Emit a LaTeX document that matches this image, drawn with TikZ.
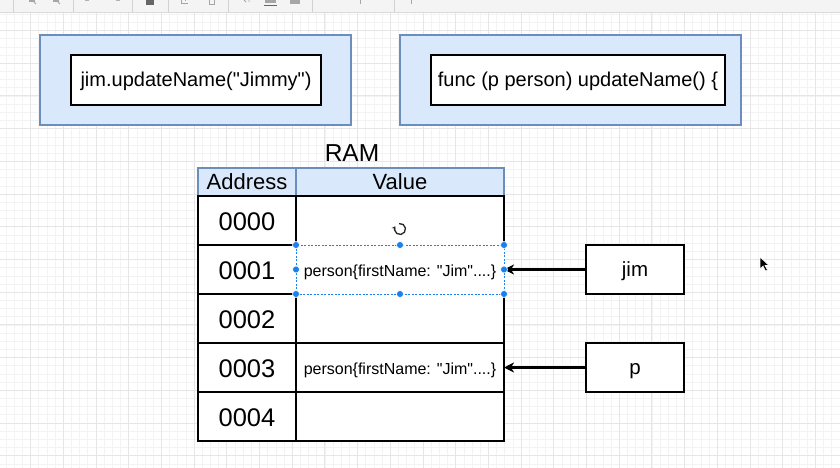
\documentclass[tikz,border=0pt]{standalone}
\usepackage{fontspec}
\setmainfont{Liberation Sans}[Ligatures=TeXOff]
\usetikzlibrary{arrows.meta}
\definecolor{blfill}{HTML}{DAE8FC}
\definecolor{blline}{HTML}{6C8EBF}
\definecolor{selblue}{HTML}{1A7FF0}
\definecolor{gmin}{HTML}{F3F3F3}
\definecolor{gmaj}{HTML}{E6E6E6}
\definecolor{tbar}{HTML}{F4F4F4}
\tikzset{
  outerbox/.style={draw=blline, fill=blfill, line width=1.2pt, minimum width=#1, minimum height=90pt, inner sep=0pt, outer sep=0pt},
  codebox/.style={draw=black, fill=white, line width=1.5pt, minimum width=#1, minimum height=50pt, inner sep=0pt, outer sep=0pt, text height=18pt, text depth=4pt, font=\fontsize{20}{24}\selectfont},
  headcell/.style={draw=blline, fill=blfill, line width=1.2pt, minimum width=#1, minimum height=28pt, inner sep=0pt, outer sep=0pt, font=\fontsize{22}{26}\selectfont},
  addrcell/.style={draw=black, fill=white, line width=1.5pt, minimum width=98pt, minimum height=49pt, inner sep=0pt, outer sep=0pt, text height=22pt, text depth=3pt, font=\fontsize{25.5}{28}\selectfont},
  valcell/.style={draw=black, fill=white, line width=1.5pt, minimum width=208pt, minimum height=49pt, inner sep=0pt, outer sep=0pt, text height=16pt, text depth=3pt, font=\fontsize{16}{19}\selectfont},
  varbox/.style={draw=black, fill=white, line width=1.5pt, minimum width=98pt, minimum height=49pt, inner sep=0pt, outer sep=0pt, text height=18pt, text depth=4pt, font=\fontsize{20.5}{24}\selectfont},
  ptr/.style={line width=2.6pt, -{Stealth[length=10pt,width=10pt,inset=3pt]}},
  handle/.style={fill=selblue, draw=white, line width=0.6pt, circle, inner sep=0pt, minimum size=7pt},
  tbsep/.style={draw=gray!35, line width=0.6pt},
  tbicon/.style={fill=gray!70, draw=none}
}
\begin{document}
\begin{tikzpicture}[x=1pt,y=-1pt]
\useasboundingbox (0,0) rectangle (840,468);
\fill[white] (0,0) rectangle (840,468);
% grid
\foreach \i in {0,...,104} {
  \pgfmathsetmacro{\gx}{-2.2+8.175*\i}
  \draw[gmin, line width=0.5pt] (\gx,13) -- (\gx,468);
}
\foreach \i in {0,...,57} {
  \pgfmathsetmacro{\gy}{-2.2+8.175*\i}
  \draw[gmin, line width=0.5pt] (0,\gy) -- (840,\gy);
}
\foreach \i in {0,...,26} {
  \pgfmathsetmacro{\gx}{-2.2+32.7*\i}
  \draw[gmaj, line width=0.8pt] (\gx,13) -- (\gx,468);
}
\foreach \i in {0,...,14} {
  \pgfmathsetmacro{\gy}{-2.2+32.7*\i}
  \draw[gmaj, line width=0.8pt] (0,\gy) -- (840,\gy);
}
% toolbar strip
\fill[tbar] (0,0) rectangle (840,13);
\draw[gray!30, line width=1pt] (0,13) -- (840,13);
\foreach \sx in {13,73,132,168,228,312,394} {
  \draw[tbsep] (\sx,0) -- (\sx,12);
}
\fill[tbicon] (29,0) rectangle (35,2.5);
\draw[gray!70, line width=0.8pt] (34,2) -- (36,4);
\fill[tbicon] (53,0) rectangle (59,2.5);
\draw[gray!70, line width=0.8pt] (58,2) -- (60,4);
\fill[gray!60] (85,0) rectangle (89,1.2);
\fill[gray!60] (116,0) rectangle (120,1.2);
\fill[gray!80!black] (146,0) rectangle (154,5);
\draw[gray!70, line width=0.8pt] (181,0) -- (181,3) -- (188,3) (185,0) -- (185,1);
\draw[gray!70, line width=0.8pt] (209,0) -- (209,4) -- (214,4) -- (214,0);
\draw[gray!70, line width=0.8pt] (244,0) -- (246,2) (249,0) -- (249,2);
\fill[tbicon] (265,0) rectangle (276,3);
\fill[gray!80!black] (264,5) rectangle (277,6.5);
\fill[tbicon] (290,0) rectangle (300,4);
\draw[gray!70, line width=0.8pt] (360,0) -- (360,4);
\draw[gray!70, line width=1pt] (411,0) -- (411,4);
% code boxes
\node[outerbox=311pt] (oL) at (195.5,80) {};
\node[codebox=250pt] (cL) at (196,80) {jim.updateName("Jimmy")};
\node[outerbox=341pt] (oR) at (570.5,80) {};
\node[codebox=294pt] (cR) at (578,80) {func (p person) updateName() \{};
% RAM table
\node[font=\fontsize{24.5}{28}\selectfont, inner sep=0pt] (ram) at (352,153) {RAM};
\node[headcell=98pt] (hA) at (247,182) {Address};
\node[headcell=208pt] (hV) at (400,182) {Value};
\foreach \r/\lab in {0/0000,1/0001,2/0002,3/0003,4/0004} {
  \pgfmathsetmacro{\cy}{220.5+49*\r}
  \node[addrcell] (a\r) at (247,\cy) {\lab};
}
\node[valcell] (v0) at (400,220.5) {};
\node[valcell] (v1) at (400,269.5) {person\{firstName: "Jim"....\}};
\node[valcell] (v2) at (400,318.5) {};
\node[valcell] (v3) at (400,367.5) {person\{firstName: "Jim"....\}};
\node[valcell] (v4) at (400,416.5) {};
% variables
\node[varbox] (jim) at (635,269.5) {jim};
\node[varbox] (p) at (635,367.5) {p};
\draw[ptr] (jim.west) -- (v1.east);
\draw[ptr] (p.west) -- (v3.east);
% selection of v1
\draw[white, line width=1.6pt] (v1.north west) rectangle (v1.south east);
\draw[selblue, line width=0.9pt, dash pattern=on 2pt off 1.5pt] (v1.north west) rectangle (v1.south east);
\foreach \an in {north west,north,north east,east,south east,south,south west,west} {
  \node[handle] at (v1.\an) {};
}
% rotate icon
\coordinate (rot) at (400,229);
\draw[gray!30!black, line width=1.3pt, -{Stealth[length=3.5pt,width=4.5pt]}] (rot) ++(100:5.5pt) arc[start angle=100, end angle=-210, radius=5.5pt];
% cursor
\coordinate (cur) at (760,257);
\fill[black, draw=white, line width=0.6pt] (cur) -- ++(0,12) -- ++(3,-3) -- ++(2.5,5) -- ++(2,-1) -- ++(-2.5,-4.5) -- ++(4,0) -- cycle;
\end{tikzpicture}
\end{document}
